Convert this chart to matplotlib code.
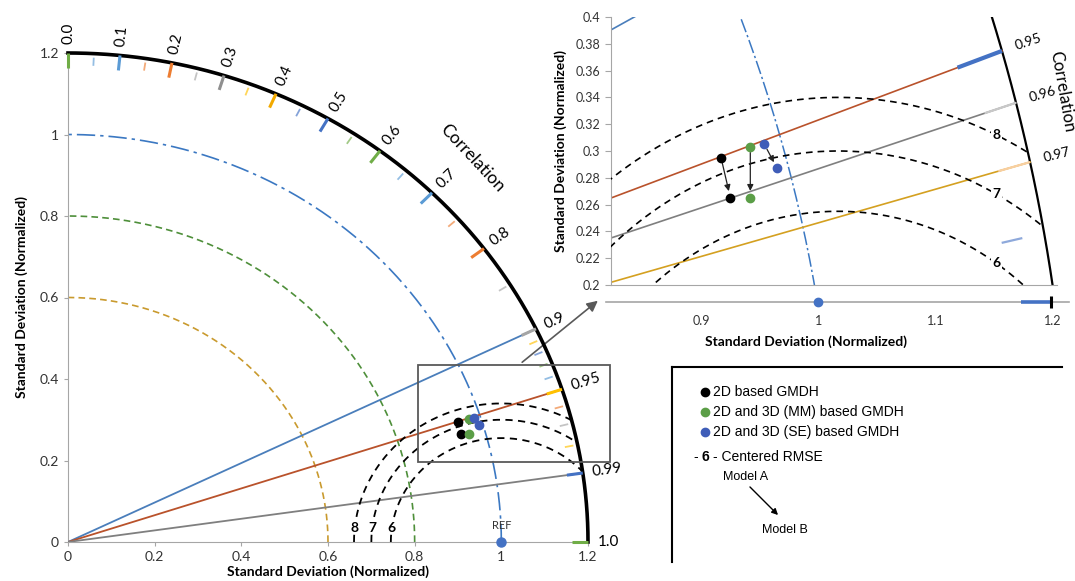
import numpy as np
import matplotlib
matplotlib.use('Agg')
import matplotlib.pyplot as plt
from matplotlib.patches import Rectangle
from matplotlib.lines import Line2D

# ---------------- data ----------------
std_arcs = [0.6, 0.8, 1.0]                 # std-dev reference arcs
std_max = 1.2
rmse_labels = [6, 7, 8]                    # centered RMSE contour labels
rmse_radii = [0.255, 0.30, 0.34]           # their normalized radii
corr_labels = [0.0, 0.1, 0.2, 0.3, 0.4, 0.5, 0.6, 0.7, 0.8, 0.9, 0.95, 0.99, 1.0]
corr_minor = [0.05, 0.15, 0.25, 0.35, 0.45, 0.55, 0.65, 0.75, 0.85,
              0.91, 0.92, 0.93, 0.94, 0.96, 0.97, 0.98]
main_corr_lines = [0.9, 0.95, 0.99]
inset_corr_lines = [0.9, 0.95, 0.96, 0.97]
inset_corr_text = [0.95, 0.96, 0.97]
model_names = ['2D based GMDH', '2D and 3D (MM) based GMDH', '2D and 3D (SE) based GMDH']
a_x = [0.900, 0.925, 0.937]   # Model A (x = sd*cos, y = sd*sin)
a_y = [0.295, 0.303, 0.305]
b_x = [0.908, 0.925, 0.948]   # Model B
b_y = [0.265, 0.265, 0.287]
ref_sd = 1.0
main_ticks = [0, 0.2, 0.4, 0.6, 0.8, 1.0, 1.2]
main_ticklabels = ['0', '0.2', '0.4', '0.6', '0.8', '1', '1.2']
inset_yticks = [0.2, 0.22, 0.24, 0.26, 0.28, 0.3, 0.32, 0.34, 0.36, 0.38, 0.4]
inset_xticks = [0.9, 1.0, 1.1, 1.2]
inset_xticklabels = ['0.9', '1', '1.1', '1.2']

# ---------------- styles ----------------
BLUE, ORANGE, GREY, YEL, BLUE2, GREEN = '#4472C4', '#ED7D31', '#A5A5A5', '#FFC000', '#5B9BD5', '#70AD47'
major_col = {0.0: GREEN, 0.1: BLUE2, 0.2: ORANGE, 0.3: '#8F8F8F', 0.4: '#F2A900', 0.5: BLUE,
             0.6: GREEN, 0.7: BLUE2, 0.8: ORANGE, 0.9: GREY, 0.95: YEL, 0.99: BLUE, 1.0: GREEN}
minor_col = [BLUE2, ORANGE, GREY, YEL, BLUE, GREEN, BLUE2, ORANGE, GREY,
             YEL, BLUE, GREEN, BLUE2, ORANGE, GREY, YEL]
arc_style = {0.6: ('#C99A2E', (0, (4, 2.5))), 0.8: ('#4E8F3A', (0, (4, 2.5))),
             1.0: ('#3B78C2', (0, (11, 3, 2, 3)))}
line_col = {0.9: '#4A7EBB', 0.95: '#B9522B', 0.96: '#7F7F7F', 0.97: '#D4A020', 0.99: '#7F7F7F'}
pt_cols = ['#000000', '#5B9E47', '#3F5DB8']

W, H = 1075, 581
plt.rcParams['font.family'] = ['Lato', 'DejaVu Sans']
fig = plt.figure(figsize=(W / 100, H / 100), dpi=100)


def fr(x0, y0, x1, y1):
    return [x0 / W, 1 - y1 / H, (x1 - x0) / W, (y1 - y0) / H]


def fp(x, y):
    return (x / W, 1 - y / H)


def rmse_arc(r, n=300):
    x_int = (std_max ** 2 - r ** 2 + 1) / 2
    phi_end = np.arccos(np.clip((x_int - 1) / r, -1, 1))
    phi = np.linspace(np.pi, phi_end, n)
    return 1 + r * np.cos(phi), r * np.sin(phi)


th = np.linspace(0, np.pi / 2, 400)

# ================= main Taylor diagram =================
ax = fig.add_axes(fr(68, 53, 588, 542))
ax.set_xlim(0, 1.2)
ax.set_ylim(0, 1.2)
for s in ['top', 'right']:
    ax.spines[s].set_visible(False)
for s in ['left', 'bottom']:
    ax.spines[s].set_color('#A6A6A6')
ax.set_xticks(main_ticks)
ax.set_xticklabels(main_ticklabels)
ax.set_yticks(main_ticks)
ax.set_yticklabels(main_ticklabels)
ax.tick_params(colors='#A6A6A6', labelcolor='#333333', labelsize=10, length=3)
ax.set_xlabel('Standard Deviation (Normalized)', fontweight='bold', fontsize=10, labelpad=2)
ax.set_ylabel('Standard Deviation (Normalized)', fontweight='bold', fontsize=10, labelpad=8)

for s in std_arcs:
    c, ls = arc_style[s]
    ax.plot(s * np.cos(th), s * np.sin(th), color=c, ls=ls, lw=1.2, clip_on=False)
ax.plot(std_max * np.cos(th), std_max * np.sin(th), color='black', lw=2.6, clip_on=False, zorder=5)

for c in main_corr_lines:
    t = np.arccos(c)
    ax.plot([0, std_max * np.cos(t)], [0, std_max * np.sin(t)], color=line_col[c], lw=1.3, zorder=3)

for r, lab in zip(rmse_radii, rmse_labels):
    x, y = rmse_arc(r)
    ax.plot(x, y, color='black', ls=(0, (4, 3)), lw=1.3, zorder=3)
    yl = 0.035
    xl = 1 - np.sqrt(r ** 2 - yl ** 2)
    ax.text(xl, yl, str(lab), ha='center', va='center', fontsize=10, fontweight='bold',
            bbox=dict(boxstyle='square,pad=0.05', fc='white', ec='none'), zorder=4)

sx, sy = 520 / 1.2, 489 / 1.2
for c in corr_labels:
    t = np.arccos(c)
    ax.plot([1.2 * np.cos(t), 1.163 * np.cos(t)], [1.2 * np.sin(t), 1.163 * np.sin(t)],
            color=major_col[c], lw=2.2, clip_on=False, zorder=6, solid_capstyle='butt')
    rot = np.degrees(np.arctan2(sy * np.sin(t), sx * np.cos(t)))
    ax.text(1.222 * np.cos(t), 1.222 * np.sin(t), f'{c:g}' if c not in (0.0, 1.0) else f'{c:.1f}',
            rotation=rot, rotation_mode='anchor', ha='left', va='center', fontsize=11, clip_on=False)
for c, col in zip(corr_minor, minor_col):
    t = np.arccos(c)
    ax.plot([1.19 * np.cos(t), 1.17 * np.cos(t)], [1.19 * np.sin(t), 1.17 * np.sin(t)],
            color=col, lw=1.3, alpha=0.65, clip_on=False, zorder=6, solid_capstyle='butt')

for i in range(3):
    ax.plot(a_x[i], a_y[i], 'o', color=pt_cols[i], ms=6, zorder=7)
    ax.plot(b_x[i], b_y[i], 'o', color=pt_cols[i], ms=6, zorder=7)
ax.plot(ref_sd, 0, 'o', color=BLUE, ms=6.5, clip_on=False, zorder=7)
ax.text(ref_sd, 0.04, 'REF', ha='center', va='center', fontsize=8, color='#333333')

ax.add_patch(Rectangle((0.807, 0.196), 0.443, 0.238, fill=False, ec='#595959', lw=1.3, clip_on=False, zorder=6))
fig.text(*fp(472, 158), 'Correlation', rotation=-47, ha='center', va='center', fontsize=12.5)
ax.annotate('', xy=fp(600, 299), xycoords='figure fraction', xytext=fp(520, 364),
            textcoords='figure fraction',
            arrowprops=dict(arrowstyle='-|>', color='#595959', lw=1.2, mutation_scale=16))

# ================= inset =================
shift = 0.017
ax2 = fig.add_axes(fr(611, 17, 1057, 285))
ax2.set_xlim(0.823 - shift, 1.204 - shift)
ax2.set_ylim(0.2, 0.4)
for s in ['top', 'right']:
    ax2.spines[s].set_visible(False)
for s in ['left', 'bottom']:
    ax2.spines[s].set_color('#A6A6A6')
ax2.set_xticks([])
ax2.set_yticks(inset_yticks)
ax2.set_yticklabels([f'{v:g}' for v in inset_yticks])
ax2.tick_params(colors='#A6A6A6', labelcolor='#333333', labelsize=9, length=4)
ax2.set_ylabel('Standard Deviation (Normalized)', fontweight='bold', fontsize=10, labelpad=6)

ax2.plot(ref_sd * np.cos(th), ref_sd * np.sin(th), color=arc_style[1.0][0], ls=(0, (9, 2, 1.5, 2)), lw=1.1)
ax2.plot(std_max * np.cos(th), std_max * np.sin(th), color='black', lw=1.6)
for c in inset_corr_lines:
    t = np.arccos(c)
    ax2.plot([0, std_max * np.cos(t)], [0, std_max * np.sin(t)], color=line_col[c], lw=1.2)
seg = [(0.95, 1.16, 1.2, BLUE, 3.0), (0.96, 1.172, 1.2, '#C8C8C8', 1.6),
       (0.97, 1.172, 1.2, '#F8CFA0', 1.6), (0.98, 1.163, 1.181, '#8EA9DB', 1.6)]
for c, r0, r1, col, lw in seg:
    t = np.arccos(c)
    ax2.plot([r0 * np.cos(t), r1 * np.cos(t)], [r0 * np.sin(t), r1 * np.sin(t)], color=col, lw=lw,
             solid_capstyle='butt', zorder=4)
for r, lab in zip(rmse_radii, rmse_labels):
    x, y = rmse_arc(r)
    ax2.plot(x, y, color='black', ls=(0, (4, 3)), lw=1.2, zorder=3)
    xl = 1.135
    yl = np.sqrt(r ** 2 - (xl - 1) ** 2)
    ax2.text(xl, yl, str(lab), ha='center', va='center', fontsize=10, fontweight='bold',
             bbox=dict(boxstyle='square,pad=0.1', fc='white', ec='none'), zorder=4)
for c in inset_corr_text:
    t = np.arccos(c)
    rot = np.degrees(np.arctan2(1340 * np.sin(t), 1170 * np.cos(t))) - 2
    ax2.text(1.212 * np.cos(t), 1.212 * np.sin(t), f'{c:g}', rotation=rot, rotation_mode='anchor',
             ha='left', va='center', fontsize=10, clip_on=False)
for i in range(3):
    ax2.plot(a_x[i], a_y[i], 'o', color=pt_cols[i], ms=6, zorder=7)
    ax2.plot(b_x[i], b_y[i], 'o', color=pt_cols[i], ms=6, zorder=7)
    ax2.annotate('', xy=(b_x[i], b_y[i]), xytext=(a_x[i], a_y[i]),
                 arrowprops=dict(arrowstyle='-|>', color='#222222', lw=0.9, mutation_scale=9,
                                 shrinkA=4, shrinkB=5), zorder=6)
fig.text(*fp(1062, 92), 'Correlation', rotation=-80, ha='center', va='center', fontsize=12)

# strip with the x axis of the inset
ax3 = fig.add_axes(fr(611, 292, 1057, 312))
ax3.set_xlim(0.823, 1.204)
ax3.set_ylim(-1, 1)
for s in ax3.spines.values():
    s.set_visible(False)
ax3.set_yticks([])
ax3.set_xticks(inset_xticks)
ax3.set_xticklabels(inset_xticklabels)
ax3.tick_params(axis='x', length=0, labelsize=9, labelcolor='#333333', pad=2)
ax3.plot([0.819, 1.214], [0, 0], color='#A6A6A6', lw=1.2, clip_on=False)
ax3.plot([1.173, 1.199], [0, 0], color=BLUE, lw=2.6, solid_capstyle='butt')
ax3.plot(1.199, 0, marker='|', color='black', ms=9, mew=2.2, clip_on=False)
ax3.plot(ref_sd, 0, 'o', color=BLUE, ms=6, clip_on=False, zorder=5)
fig.text(*fp(806, 342), 'Standard Deviation (Normalized)', ha='center', va='center',
         fontsize=10, fontweight='bold')

# ================= legend panel =================
fig.add_artist(Line2D([672 / W, 1062 / W], [1 - 367 / H, 1 - 367 / H], color='black', lw=1.5))
fig.add_artist(Line2D([672 / W, 672 / W], [1 - 367 / H, 1 - 562 / H], color='black', lw=1.5))
lf = ['Liberation Sans', 'DejaVu Sans']
for i, (name, col) in enumerate(zip(model_names, pt_cols)):
    yy = 392 + 20 * i
    fig.add_artist(Line2D([705 / W], [1 - yy / H], marker='o', color=col, ms=6, ls='none'))
    fig.text(*fp(713, yy), name, ha='left', va='center', fontsize=10, family=lf)
fig.text(*fp(693, 457), '-', ha='left', va='center', fontsize=10, family=lf)
fig.text(*fp(702, 457), '6', ha='left', va='center', fontsize=10, family=lf, fontweight='bold')
fig.text(*fp(713, 457), '- Centered RMSE', ha='left', va='center', fontsize=10, family=lf)
fig.text(*fp(723, 477), 'Model A', ha='left', va='center', fontsize=9, family=lf)
fig.text(*fp(762, 530), 'Model B', ha='left', va='center', fontsize=9, family=lf)
ax.annotate('', xy=fp(780, 517), xycoords='figure fraction', xytext=fp(748, 485),
            textcoords='figure fraction',
            arrowprops=dict(arrowstyle='-|>', color='black', lw=1.0, mutation_scale=9))

fig.savefig('out.png', dpi=100)
